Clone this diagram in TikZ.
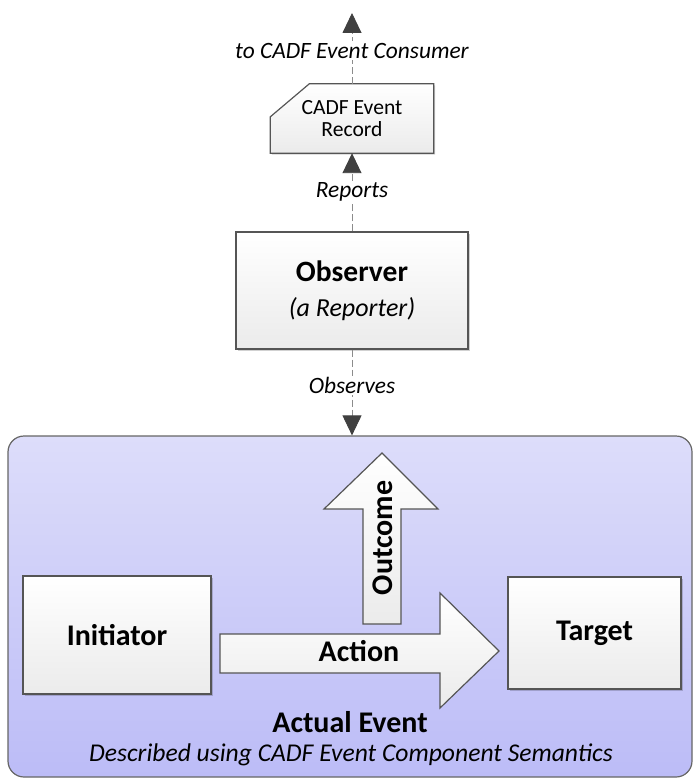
\documentclass[tikz,border=0pt]{standalone}
\usepackage{fontspec}
\setmainfont{Carlito}
\usetikzlibrary{arrows.meta,shadows}

\definecolor{edge}{HTML}{555555}
\definecolor{dashgray}{HTML}{8C8C8C}
\definecolor{tipgray}{HTML}{404040}
\definecolor{boxlow}{HTML}{EBEBEB}
\definecolor{eventtop}{RGB}{221,221,250}
\definecolor{eventlow}{RGB}{188,188,247}

\tikzset{
  softshadow/.style={drop shadow={shadow xshift=1.5pt, shadow yshift=-1.5pt,
    opacity=0.18, fill=black}},
  card/.style={draw=edge, line width=1.2pt, top color=white, bottom color=boxlow,
    softshadow, inner sep=0pt, align=center},
  title/.style={font=\fontsize{30}{36}\selectfont\bfseries},
  blockarrow/.style={draw=edge, line width=1.2pt, top color=white, bottom color=boxlow,
    line join=miter},
  flow/.style={draw=dashgray, line width=0.9pt, dash pattern=on 7pt off 3pt,
    -{Triangle[width=19pt,length=20pt,color=tipgray]}},
  lbl/.style={fill=white, inner sep=1.5pt, font=\fontsize{23.4}{27}\selectfont\itshape}
}

\begin{document}
\begin{tikzpicture}[x=1pt,y=-1pt]
\useasboundingbox (0,0) rectangle (693,778);

% the event container
\node[draw=edge!90, line width=1.2pt, rounded corners=16pt,
      top color=eventtop, bottom color=eventlow,
      minimum width=684pt, minimum height=341pt] (event) at (350,606.5) {};

% observer
\node[card, minimum width=232pt, minimum height=117pt,
      font=\fontsize{26}{35}\selectfont] (obs) at (352,290.5)
  {{\fontsize{29.5}{35}\selectfont\bfseries Observer}\\
   {\itshape (a Reporter)}};

% the record it produces: a card with its upper left corner cut off
\node[inner sep=0pt, minimum width=163pt, minimum height=69pt] (rec) at (352,118.5) {};
\path[blockarrow, softshadow] ([xshift=39pt]rec.north west) -- (rec.north east)
  -- (rec.south east) -- (rec.south west) -- ([yshift=-33pt]rec.north west) -- cycle;
\node[align=center, font=\fontsize{21.6}{22}\selectfont] (rectext) at (rec.center)
  {CADF Event\\Record};
\coordinate (consumer) at (352,13);

% components of the event
\node[card, title, minimum width=188pt, minimum height=118pt] (init) at (117,635) {Initiator};
\node[card, title, minimum width=173pt, minimum height=112pt] (target) at (594.5,633) {Target};

% outcome and action block arrows
\path[blockarrow] (363,624) -- (363,509) -- (324,509) -- (382,453) -- (438,509)
  -- (401,509) -- (401,624) -- cycle;
\path[blockarrow] (220,634) -- (440,634) -- (440,593) -- (499,651) -- (440,708)
  -- (440,673) -- (220,673) -- cycle;
\node[title, rotate=90, anchor=base] (outcome) at (392,538) {Outcome};
\node[title, anchor=base] (action) at (359,661) {Action};

% caption of the container
\node[title, anchor=base] (evtitle) at (350,732) {Actual Event};
\node[font=\fontsize{25.6}{30}\selectfont\itshape, anchor=base] (evnote) at (351,761)
  {Described using CADF Event Component Semantics};

% reporting chain
\draw[flow] (obs.south) -- node[lbl, pos=0.42] (lobs) {Observes} (obs.south |- event.north);
\draw[flow] (obs.north) -- node[lbl, pos=0.5] (lrep) {Reports} (rec.south);
\draw[flow] (rec.north) -- node[lbl, pos=0.47] (lcons) {to CADF Event Consumer} (consumer);
\end{tikzpicture}
\end{document}
